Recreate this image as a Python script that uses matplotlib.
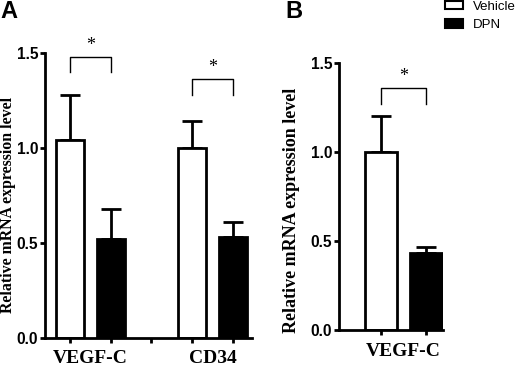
import matplotlib.pyplot as plt
from matplotlib.patches import Patch

# panel A
genes_a = ['VEGF-C', 'CD34']
veh_a = [1.04, 1.00]
veh_a_err = [0.24, 0.14]
dpn_a = [0.52, 0.53]
dpn_a_err = [0.16, 0.08]

# panel B
genes_b = ['VEGF-C']
veh_b = [1.00]
veh_b_err = [0.20]
dpn_b = [0.43]
dpn_b_err = [0.035]

ylab = 'Relative mRNA expression level'
serif = 'Liberation Serif'
sans = 'Liberation Sans'


def style(ax):
	for s in ['top', 'right']:
		ax.spines[s].set_visible(False)
	for s in ['left', 'bottom']:
		ax.spines[s].set_linewidth(2)
	ax.set_ylim(0, 1.5)
	ax.set_yticks([0, 0.5, 1.0, 1.5])
	ax.tick_params(which='major', width=2, length=3.6, pad=1.2)
	ax.tick_params(axis='x', which='major', labelbottom=False)
	ax.tick_params(axis='x', which='minor', length=0, pad=9)
	for t in ax.get_yticklabels():
		t.set_fontfamily(sans)
		t.set_fontweight('bold')
		t.set_fontsize(11.2)


def bars(ax, xv, xd, v, ve, d, de, w):
	ax.bar(xv, v, w, color='white', edgecolor='black', linewidth=2, zorder=2)
	ax.bar(xd, d, w, color='black', edgecolor='black', linewidth=2, zorder=2)
	ax.errorbar(xv, v, yerr=[[0] * len(v), ve], fmt='none', ecolor='black',
		elinewidth=2, capsize=7, capthick=2, zorder=1)
	ax.errorbar(xd, d, yerr=[[0] * len(d), de], fmt='none', ecolor='black',
		elinewidth=2, capsize=7, capthick=2, zorder=1)


def bracket(ax, x1, x2, top, low):
	ax.plot([x1, x1, x2, x2], [low, top, top, low], color='black', lw=1, clip_on=False)
	ax.text((x1 + x2) / 2, top + 0.015, '*', ha='center', va='bottom',
		fontsize=13, fontfamily=serif)


fig = plt.figure(figsize=(5.2, 3.67), dpi=100)

axA = fig.add_axes([0.0865, 0.0798, 0.398, 0.7766])
xv = [0, 3]
xd = [1, 4]
bars(axA, xv, xd, veh_a, veh_a_err, dpn_a, dpn_a_err, 0.69)
style(axA)
axA.set_xlim(-0.613, 4.47)
axA.set_xticks([0, 1, 2, 3, 4])
axA.set_xticks([0.5, 3.5], minor=True)
axA.set_xticklabels(genes_a, minor=True, fontfamily=serif, fontweight='bold', fontsize=14)
bracket(axA, 0, 1, 1.48, 1.40)
bracket(axA, 3, 4, 1.36, 1.28)

axB = fig.add_axes([0.652, 0.1008, 0.199, 0.728])
bars(axB, [0], [1], veh_b, veh_b_err, dpn_b, dpn_b_err, 0.72)
style(axB)
axB.set_xlim(-0.94, 1.38)
axB.set_xticks([0, 1])
axB.set_xticks([0.5], minor=True)
axB.set_xticklabels(genes_b, minor=True, fontfamily=serif, fontweight='bold', fontsize=14)
bracket(axB, 0, 1, 1.36, 1.27)

fig.text(8.5 / 520, 0.441, ylab, rotation=90, ha='center', va='center',
	fontfamily=serif, fontweight='bold', fontsize=11.4)
fig.text(292 / 520, 0.428, ylab, rotation=90, ha='center', va='center',
	fontfamily=serif, fontweight='bold', fontsize=13)

fig.text(0.0, 1.0, 'A', ha='left', va='top', fontfamily=sans, fontweight='bold', fontsize=17)
fig.text(285 / 520, 1.0, 'B', ha='left', va='top', fontfamily=sans, fontweight='bold', fontsize=17)

handles = [Patch(facecolor='white', edgecolor='black', linewidth=1.5),
	Patch(facecolor='black', edgecolor='black', linewidth=1.5)]
fig.legend(handles, ['Vehicle', 'DPN'], loc='upper left', bbox_to_anchor=(445 / 520, 0.998),
	frameon=False, borderpad=0, borderaxespad=0, handlelength=1.4, handleheight=0.6,
	handletextpad=0.75, labelspacing=0.5, prop={'family': sans, 'size': 9.5})

fig.savefig('out.png', dpi=100)
